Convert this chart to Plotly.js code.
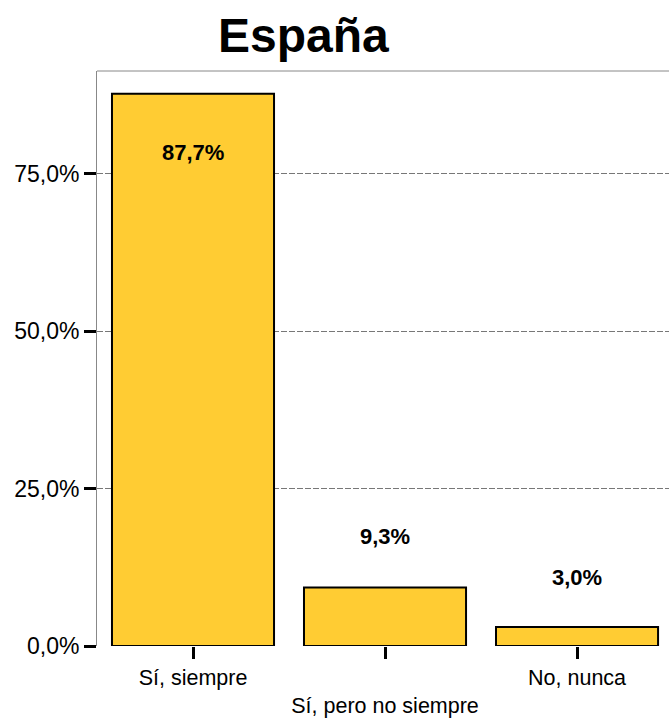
<!DOCTYPE html>
<html>
<head>
<meta charset="utf-8">
<script src="https://cdn.plot.ly/plotly-3.0.1.min.js"></script>
<style>html,body{margin:0;padding:0;overflow:hidden;background:#fff}</style>
</head>
<body>
<div id="chart" style="width:669px;height:719px"></div>
<script>
const categories = ["Sí, siempre", "Sí, pero no siempre", "No, nunca"];
const tickLabels = ["Sí, siempre", " <br>Sí, pero no siempre", "No, nunca"];
const values = [87.7, 9.3, 3.0];
const valueLabels = ["87,7%", "9,3%", "3,0%"];
const labelShift = [-59, 51, 50];
const yTicks = [0, 25, 50, 75];
const yTickLabels = ["0,0%", "25,0%", "50,0%", "75,0%"];
const chartTitle = "España";

const trace = {
  type: "bar",
  x: categories,
  y: values,
  marker: {color: "#FFCC33", line: {color: "#000", width: 2}},
  hoverinfo: "skip"
};

const annotations = categories.map((c, i) => ({
  x: c, y: values[i], xref: "x", yref: "y",
  text: "<b>" + valueLabels[i] + "</b>",
  showarrow: false, yanchor: "middle", yshift: labelShift[i],
  font: {family: "Liberation Sans, Arial, sans-serif", size: 22, color: "#000"}
}));
annotations.push({
  xref: "paper", yref: "paper", x: (303 - 97) / 572, y: 1, yshift: 36,
  xanchor: "center", yanchor: "middle", showarrow: false,
  text: "<b>" + chartTitle + "</b>",
  font: {family: "Liberation Sans, Arial, sans-serif", size: 48, color: "#000"}
});

const layout = {
  width: 669, height: 719,
  margin: {l: 97, r: 0, t: 71, b: 73},
  paper_bgcolor: "#fff", plot_bgcolor: "#fff",
  separators: ",.",
  showlegend: false,
  bargap: 0.156,
  font: {family: "Liberation Sans, Arial, sans-serif", color: "#000", size: 23},
  xaxis: {
    type: "category",
    range: [-0.5, 2.479],
    tickvals: categories, ticktext: tickLabels,
    ticks: "outside", ticklen: 12, tickwidth: 3, tickcolor: "#000",
    showline: false, showgrid: false, zeroline: false,
    tickfont: {size: 21.5}
  },
  yaxis: {
    range: [0, 91.3],
    tickvals: yTicks, ticktext: yTickLabels,
    ticks: "outside", ticklen: 12, tickwidth: 3, tickcolor: "#000",
    showline: true, linecolor: "#888", linewidth: 1,
    showgrid: true, gridcolor: "#777", griddash: "6px,2px", gridwidth: 1,
    zeroline: false,
    tickfont: {size: 23}
  },
  shapes: [{type: "line", xref: "paper", yref: "paper", x0: 0, x1: 1, y0: 1, y1: 1,
            line: {color: "#888", width: 1}}],
  annotations: annotations
};

Plotly.newPlot("chart", [trace], layout, {displayModeBar: false, staticPlot: true});
</script>
</body>
</html>
